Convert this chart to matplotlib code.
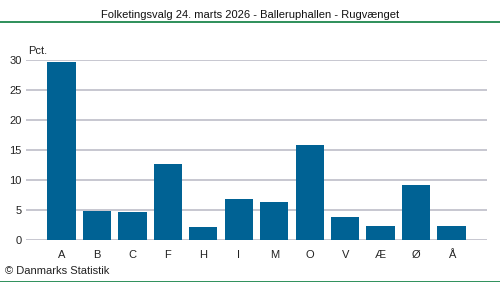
import matplotlib
matplotlib.use("Agg")
from matplotlib import pyplot as plt
from matplotlib.lines import Line2D

# party letters and vote share in percent
parties = ["A", "B", "C", "F", "H", "I", "M", "O", "V", "Æ", "Ø", "Å"]
pct = [29.6, 4.8, 4.7, 12.6, 2.2, 6.8, 6.3, 15.8, 3.8, 2.3, 9.1, 2.3]
yticks = [0, 5, 10, 15, 20, 25, 30]

title = "Folketingsvalg 24. marts 2026 - Balleruphallen - Rugvænget"
bar_col = "#006294"
green = "#0a7d3e"

plt.rcParams["font.family"] = ["Liberation Sans", "DejaVu Sans"]

fig = plt.figure(figsize=(5.0, 2.82), dpi=100)
ax = fig.add_axes([26 / 500, 1 - 240 / 282, (487 - 26) / 500, (240 - 59.5) / 282])

x = list(range(len(parties)))
ax.bar(x, pct, width=0.8, color=bar_col, zorder=3)

ax.set_xlim(-1, 12)
ax.set_ylim(0, 30)
ax.set_yticks(yticks)
ax.set_xticks(x)
ax.set_xticklabels(parties)
ax.grid(axis="y", color="#bebec8", linewidth=1.2, zorder=0)
for s in ax.spines.values():
    s.set_visible(False)
ax.tick_params(length=0, labelsize=8, colors="#222222")
ax.tick_params(axis="y", pad=3)
ax.tick_params(axis="x", pad=7)

ax.text(2 / 461, 1.02, "Pct.", transform=ax.transAxes, fontsize=8, color="#222222",
        va="bottom", ha="left")

fig.text(0.5, 1 - 15 / 282, title, ha="center", va="center", fontsize=8, color="#111111")
fig.text(5 / 500, 1 - 271 / 282, "© Danmarks Statistik", ha="left", va="center",
         fontsize=8, color="#222222")

fig.add_artist(Line2D([0, 1], [1 - 22 / 282, 1 - 22 / 282], color=green, linewidth=1.2,
                      transform=fig.transFigure))
fig.add_artist(Line2D([0, 1], [0.5 / 282, 0.5 / 282], color=green, linewidth=1.2,
                      transform=fig.transFigure))

fig.savefig("out.png", dpi=100)
